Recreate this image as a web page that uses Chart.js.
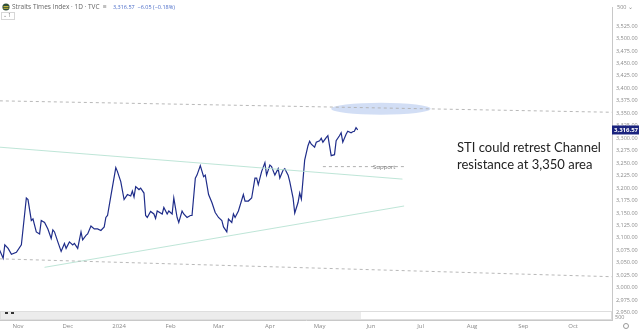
<!DOCTYPE html>
<html>
<head>
<meta charset="utf-8">
<script src="https://cdn.jsdelivr.net/npm/chart.js@4.4.1/dist/chart.umd.min.js"></script>
<style>
  html, body { margin: 0; padding: 0; background: #fff; }
  #wrap { width: 639px; height: 332px; }
</style>
</head>
<body>
<div id="wrap"><canvas id="sti" width="639" height="332"></canvas></div>
<script>
/* STI daily close, late Oct 2023 -> late May 2024, with channel lines and notes */

const dates = [
  "2023-10-20","2023-10-23","2023-10-24","2023-10-26","2023-10-28","2023-10-31",
  "2023-11-03","2023-11-06","2023-11-07","2023-11-09","2023-11-10","2023-11-12",
  "2023-11-14","2023-11-15","2023-11-17","2023-11-19","2023-11-21","2023-11-22",
  "2023-11-23","2023-11-25","2023-11-27","2023-11-29","2023-11-30","2023-12-02",
  "2023-12-04","2023-12-05","2023-12-07","2023-12-09","2023-12-10","2023-12-12",
  "2023-12-13","2023-12-15","2023-12-17","2023-12-19","2023-12-21","2023-12-23",
  "2023-12-24","2023-12-25","2023-12-27","2023-12-30","2023-12-31","2024-01-02",
  "2024-01-04","2024-01-06","2024-01-08","2024-01-09","2024-01-10","2024-01-11",
  "2024-01-13","2024-01-14","2024-01-16","2024-01-17","2024-01-18","2024-01-20",
  "2024-01-22","2024-01-23","2024-01-24","2024-01-27","2024-01-28","2024-01-30",
  "2024-01-31","2024-02-02","2024-02-03","2024-02-05","2024-02-06","2024-02-08",
  "2024-02-09","2024-02-11","2024-02-13","2024-02-14","2024-02-16","2024-02-17",
  "2024-02-19","2024-02-21","2024-02-22","2024-02-24","2024-02-26","2024-02-28",
  "2024-03-01","2024-03-03","2024-03-04","2024-03-06","2024-03-07","2024-03-09",
  "2024-03-10","2024-03-11","2024-03-13","2024-03-16","2024-03-17","2024-03-19",
  "2024-03-21","2024-03-23","2024-03-24","2024-03-25","2024-03-27","2024-03-29",
  "2024-03-30","2024-04-01","2024-04-02","2024-04-04","2024-04-06","2024-04-07",
  "2024-04-09","2024-04-10","2024-04-12","2024-04-13","2024-04-15","2024-04-16",
  "2024-04-18","2024-04-19","2024-04-20","2024-04-22","2024-04-24","2024-04-25",
  "2024-04-26","2024-04-28","2024-04-29","2024-05-01","2024-05-02","2024-05-03",
  "2024-05-05","2024-05-06","2024-05-07","2024-05-08","2024-05-10","2024-05-11",
  "2024-05-13","2024-05-14","2024-05-15","2024-05-17","2024-05-18","2024-05-20",
  "2024-05-21","2024-05-22","2024-05-23","2024-05-24"
];

const closes = [
  3082,3059,3086,3079,3067,3071,
  3086,3180,3177,3135,3138,3112,
  3108,3135,3131,3118,3099,3116,
  3112,3092,3073,3089,3079,3092,
  3086,3089,3079,3112,3096,3105,
  3108,3124,3118,3118,3115,3122,
  3141,3145,3184,3241,3233,3213,
  3177,3187,3184,3194,3182,3203,
  3197,3200,3190,3145,3141,3153,
  3148,3139,3154,3148,3161,3148,
  3154,3148,3180,3141,3131,3154,
  3148,3141,3145,3145,3220,3226,
  3245,3223,3226,3187,3171,3151,
  3141,3135,3122,3112,3138,3131,
  3148,3141,3154,3187,3174,3174,
  3180,3220,3220,3207,3233,3251,
  3226,3246,3243,3226,3239,3220,
  3236,3239,3226,3213,3180,3150,
  3171,3190,3178,3256,3285,3294,
  3288,3282,3292,3295,3300,3292,
  3301,3305,3285,3265,3267,3295,
  3305,3311,3292,3308,3314,3311,
  3313,3314,3321,3316.57
];

// drawn trend lines: [start date, end date] and [start value, end value]
const resistDates = ["2023-10-21", "2024-10-26"];
const resistVals  = [3375, 3352];
const floorDates  = ["2023-10-21", "2024-10-26"];
const floorVals   = [3058, 3022];
const chanTopDates = ["2023-10-21", "2024-06-20"];
const chanTopVals  = [3282, 3218];
const chanLowDates = ["2023-11-17", "2024-06-21"];
const chanLowVals  = [3041, 3164];
const supportDates = ["2024-05-03", "2024-06-21"];
const supportVals  = [3243, 3243];

// highlighted zone around the upper channel line
const zoneDate = "2024-06-07";
const zoneValue = 3359;
const zoneHalfDays = 30;
const zoneHalfPts = 12;

const monthTickDates  = ["2023-11-01","2023-12-01","2024-01-01","2024-02-01","2024-03-01","2024-04-01",
                         "2024-05-01","2024-06-01","2024-07-01","2024-08-01","2024-09-01","2024-10-01"];
const monthTickLabels = ["Nov","Dec","2024","Feb","Mar","Apr","May","Jun","Jul","Aug","Sep","Oct"];

const yTicks = [2950,2975,3000,3025,3050,3075,3100,3125,3150,3175,3200,3225,
                3250,3275,3300,3325,3350,3375,3400,3425,3450,3475,3500,3525];

const lastClose = 3316.57;
const lastChange = "−6.05 (−0.18%)";

const ORIGIN = Date.UTC(2023, 10, 1);
function toDay(iso){
  const p = iso.split("-").map(Number);
  return (Date.UTC(p[0], p[1]-1, p[2]) - ORIGIN) / 86400000;
}
function pts(ds, vs){ return ds.map((d,i)=>({x: toDay(d), y: vs[i]})); }
function fmt2(v){ return v.toLocaleString("en-US",{minimumFractionDigits:2, maximumFractionDigits:2}); }

const FONT = "'Open Sans', 'Noto Sans', sans-serif";
const axisGrey = "#8a8a8a";

const overlay = {
  id: "overlay",
  beforeDatasetsDraw(chart){
    const {ctx, scales:{x, y}} = chart;
    const cx = x.getPixelForValue(toDay(zoneDate));
    const cy = y.getPixelForValue(zoneValue);
    const rx = x.getPixelForValue(toDay(zoneDate) + zoneHalfDays) - cx;
    const ry = cy - y.getPixelForValue(zoneValue + zoneHalfPts);
    ctx.save();
    ctx.fillStyle = "rgba(186,204,240,0.65)";
    ctx.beginPath();
    ctx.ellipse(cx, cy, rx, ry, 0, 0, Math.PI*2);
    ctx.fill();
    ctx.restore();
  },
  afterDraw(chart){
    const {ctx, chartArea:a, scales:{x, y}} = chart;
    ctx.save();

    // strip along the bottom of the pane
    ctx.fillStyle = "#ececec";
    ctx.fillRect(0, 311, 361, 8);
    ctx.strokeStyle = "#dedede";
    ctx.lineWidth = 1;
    ctx.strokeRect(0.5, 311.5, a.right - 1, 8);
    ctx.fillStyle = "#333";
    ctx.fillRect(5, 312, 3, 2);
    ctx.fillRect(11, 312, 3, 2);

    // header
    ctx.fillStyle = "#2f4f3a";
    ctx.beginPath(); ctx.arc(6, 7, 3.6, 0, Math.PI*2); ctx.fill();
    ctx.fillStyle = "#d9c23a";
    ctx.fillRect(3.5, 6, 5, 0.9); ctx.fillRect(3.5, 7.8, 5, 0.9);
    ctx.textBaseline = "middle";
    ctx.textAlign = "left";
    ctx.font = "6.5px " + FONT;
    ctx.fillStyle = "#666";
    ctx.fillText("Straits Times Index · 1D · TVC", 12, 7);
    ctx.fillStyle = "#888";
    ctx.fillText("≡", 103, 7);
    ctx.fillStyle = "#4a6cc8";
    ctx.font = "5.5px " + FONT;
    ctx.fillText(fmt2(lastClose) + "  " + lastChange, 113, 7);
    ctx.strokeStyle = "#d6d6d6";
    ctx.strokeRect(1.5, 12.5, 13, 7);
    ctx.fillStyle = "#777";
    ctx.font = "5px " + FONT;
    ctx.fillText("⌄ 1", 3, 16);

    // notes
    ctx.fillStyle = "#222";
    ctx.font = "13px Lato, " + FONT;
    ctx.textBaseline = "alphabetic";
    ctx.fillText("STI could retrest Channel", 457, 152);
    ctx.fillText("resistance at 3,350 area", 457, 169);
    ctx.fillStyle = "#777";
    ctx.font = "6px " + FONT;
    ctx.textBaseline = "middle";
    ctx.fillText("Support", 373, 167.5);

    // right axis extras
    ctx.fillStyle = "#888";
    ctx.font = "5.5px " + FONT;
    ctx.fillText("500 ⌄", 617, 7);
    ctx.fillText("500", 615, 317);
    ctx.strokeStyle = "#999";
    ctx.beginPath(); ctx.arc(626, 326, 2.5, 0, Math.PI*2); ctx.stroke();

    // last price tag
    const py = y.getPixelForValue(lastClose);
    ctx.fillStyle = "#1a237e";
    ctx.fillRect(a.right, py - 4.5, 27, 9);
    ctx.fillStyle = "#fff";
    ctx.font = "bold 6px " + FONT;
    ctx.fillText(fmt2(lastClose), a.right + 2, py);
    ctx.restore();
  }
};

const thin = (color, dash) => ({
  borderColor: color, borderWidth: 0.9, borderDash: dash || [],
  pointRadius: 0, fill: false, tension: 0
});

new Chart(document.getElementById("sti"), {
  type: "line",
  data: {
    datasets: [
      { data: pts(resistDates, resistVals), ...thin("#b0b0b0", [3, 3]) },
      { data: pts(floorDates, floorVals), ...thin("#b0b0b0", [3, 3]) },
      { data: pts(chanTopDates, chanTopVals), ...thin("#b7e2d2") },
      { data: pts(chanLowDates, chanLowVals), ...thin("#b7e2d2") },
      { data: pts(supportDates, supportVals), ...thin("#a8a8a8", [3, 3]) },
      { data: pts(dates, closes), borderColor: "#1f2d8a", borderWidth: 1.2,
        pointRadius: 0, fill: false, tension: 0 }
    ]
  },
  options: {
    responsive: false,
    animation: false,
    devicePixelRatio: 1,
    layout: { padding: 0 },
    plugins: { legend: { display: false }, tooltip: { enabled: false } },
    scales: {
      x: {
        type: "linear",
        min: -10.9, max: 358.5,
        grid: { display: false, drawTicks: false, tickLength: 0 },
        border: { display: true, color: "#c8c8c8" },
        afterBuildTicks: s => { s.ticks = monthTickDates.map(d => ({ value: toDay(d) })); },
        afterFit: s => { s.height = 12; },
        ticks: {
          autoSkip: false, maxRotation: 0, padding: 3,
          color: axisGrey, font: { size: 6, family: FONT },
          callback: v => monthTickLabels[monthTickDates.findIndex(d => toDay(d) === v)]
        }
      },
      y: {
        type: "linear",
        position: "right",
        min: 2935.3, max: 3562.7,
        grid: { display: false, drawTicks: false, tickLength: 0 },
        border: { display: true, color: "#c8c8c8" },
        afterBuildTicks: s => { s.ticks = yTicks.map(v => ({ value: v })); },
        afterFit: s => { s.width = 27; },
        ticks: {
          padding: 4, color: axisGrey, font: { size: 5.5, family: FONT },
          callback: v => fmt2(v)
        }
      }
    }
  },
  plugins: [overlay]
});
</script>
</body>
</html>
